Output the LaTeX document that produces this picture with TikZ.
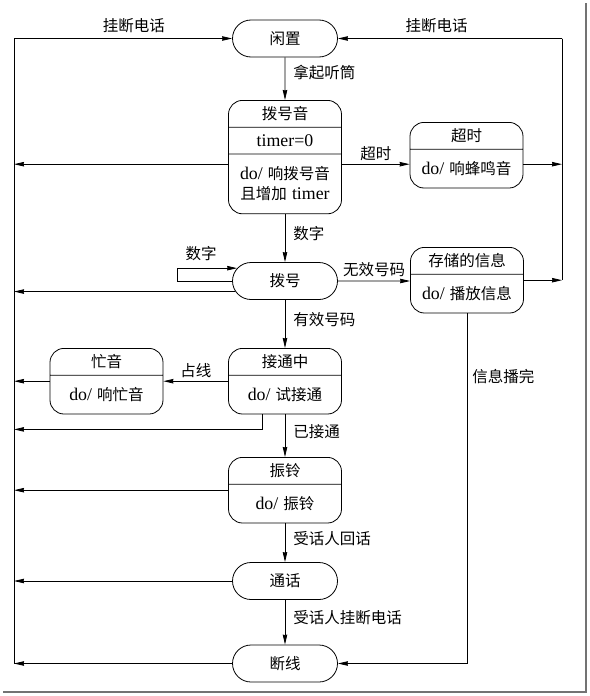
\documentclass[tikz,border=0pt]{standalone}
\usepackage{fontspec}
\setmainfont{Noto Sans CJK SC}
\newfontfamily\tnr[Scale=1.15]{Liberation Serif}
\usepackage{tikz}
\usetikzlibrary{positioning,arrows.meta,shapes.misc,shapes.multipart,calc}
\newcommand{\en}[1]{{\tnr #1}}
\newcommand{\hstrut}{\rule[-4.5pt]{0pt}{20pt}}
\newcommand{\bstrut}{\rule[-10.5pt]{0pt}{32pt}}
\tikzset{
  state/.style = {draw, rounded rectangle, minimum width=109pt, minimum height=37pt, inner sep=2pt},
  sbox/.style  = {draw, rectangle split, rectangle split parts=2, rounded corners=14pt, text width=105pt, align=center, inner xsep=4pt, inner ysep=3pt, anchor=north},
  flow/.style  = {-{Stealth[length=10pt,width=4.5pt,inset=0.5pt]}, line width=0.8pt},
  rlbl/.style  = {right, pos=0.4, inner xsep=8pt},
}

\begin{document}
\begin{tikzpicture}[x=1pt, y=-1pt, font=\fontsize{15.5pt}{20pt}\selectfont, line width=0.8pt]
  \useasboundingbox (0,0) rectangle (589,696);
  % states, main column
  \node[state] (idle) at (285,38.5) {闲置};
  \node[sbox, rectangle split parts=3] (tone) at (285,100)
    {\hstrut 拨号音\nodepart{two}\hstrut\en{timer=0}\nodepart{three}\rule{0pt}{22pt}\en{do/} 响拨号音\\且增加 \en{timer}\rule[-11pt]{0pt}{11pt}};
  \node[state] (dial) at (285,281) {拨号};
  \node[sbox] (conn) at (285,348) {\hstrut 接通中\nodepart{two}\bstrut\en{do/} 试接通};
  \node[sbox] (ring) at (285,457) {\hstrut 振铃\nodepart{two}\bstrut\en{do/} 振铃};
  \node[state] (talk) at (285,581) {通话};
  \node[state] (hang) at (285,663.5) {断线};
  % side states
  \node[sbox] (timeout) at (466.5,122) {\hstrut 超时\nodepart{two}\bstrut\en{do/} 响蜂鸣音};
  \node[sbox] (msg) at (467,247) {\hstrut 存储的信息\nodepart{two}\bstrut\en{do/} 播放信息};
  \node[sbox] (busy) at (106.5,348) {\hstrut 忙音\nodepart{two}\bstrut\en{do/} 响忙音};

  % hang-up buses
  \coordinate (lt) at (14,38.5);
  \coordinate (lb) at (14,663.5);
  \coordinate (rt) at (562,38.5);
  \coordinate (tx) at ([yshift=-9pt]timeout.west);
  \coordinate (cb) at ($(conn.south)+(-23,15)$);
  \draw (lt) -- (lb);
  \draw (rt) -- (rt |- msg.east);
  \draw[flow] (lt) -- node[above,pos=0.55,inner ysep=5pt]{挂断电话} (idle);
  \draw[flow] (rt) -- node[above,pos=0.56,inner ysep=5pt]{挂断电话} (idle);

  % transitions
  \draw[flow] (idle) -- node[rlbl,pos=0.35]{拿起听筒} (tone.north);
  \draw[flow] (tone.east |- tx) -- node[above]{超时} (tx);
  \draw[flow] ([yshift=-9pt]timeout.east) -- (rt |- tx);
  \draw[flow] (tone.west |- tx) -- (lt |- tx);
  \draw[flow] (tone.south) -- node[rlbl]{数字} (dial.north);
  \draw[flow] (dial.west) -- ++(-55,0) |- node[above,pos=0.7,inner ysep=7pt]{数字} (dial.165);
  \draw[flow] (dial) -- node[above]{无效号码} (dial -| msg.west);
  \draw[flow] (msg.east) -- (rt |- msg.east);
  \draw[flow] (msg.south) |- node[right,pos=0.09,inner xsep=5pt]{信息播完} (hang.east);
  \draw[flow] (dial.192) -- (lt |- dial.192);
  \draw[flow] (dial.south) -- node[rlbl]{有效号码} (conn.north);
  \draw[flow] (conn.west) -- node[above]{占线} (busy.east);
  \draw[flow] (busy.west) -- (lt |- busy.west);
  \draw[flow] (cb |- conn.south) -- (cb) -- (lt |- cb);
  \draw[flow] (conn.south) -- node[rlbl]{已接通} (ring.north);
  \draw[flow] (ring.west) -- (lt |- ring.west);
  \draw[flow] (ring.south) -- node[rlbl]{受话人回话} (talk.north);
  \draw[flow] (talk.west) -- (lt |- talk.west);
  \draw[flow] (talk.south) -- node[rlbl]{受话人挂断电话} (hang.north);
  \draw[flow] (hang.west) -- (lb);

  % page shadow
  \draw[black!55, line width=2.5pt] (3,692) -- (586,692) -- (586,3);
\end{tikzpicture}
\end{document}
